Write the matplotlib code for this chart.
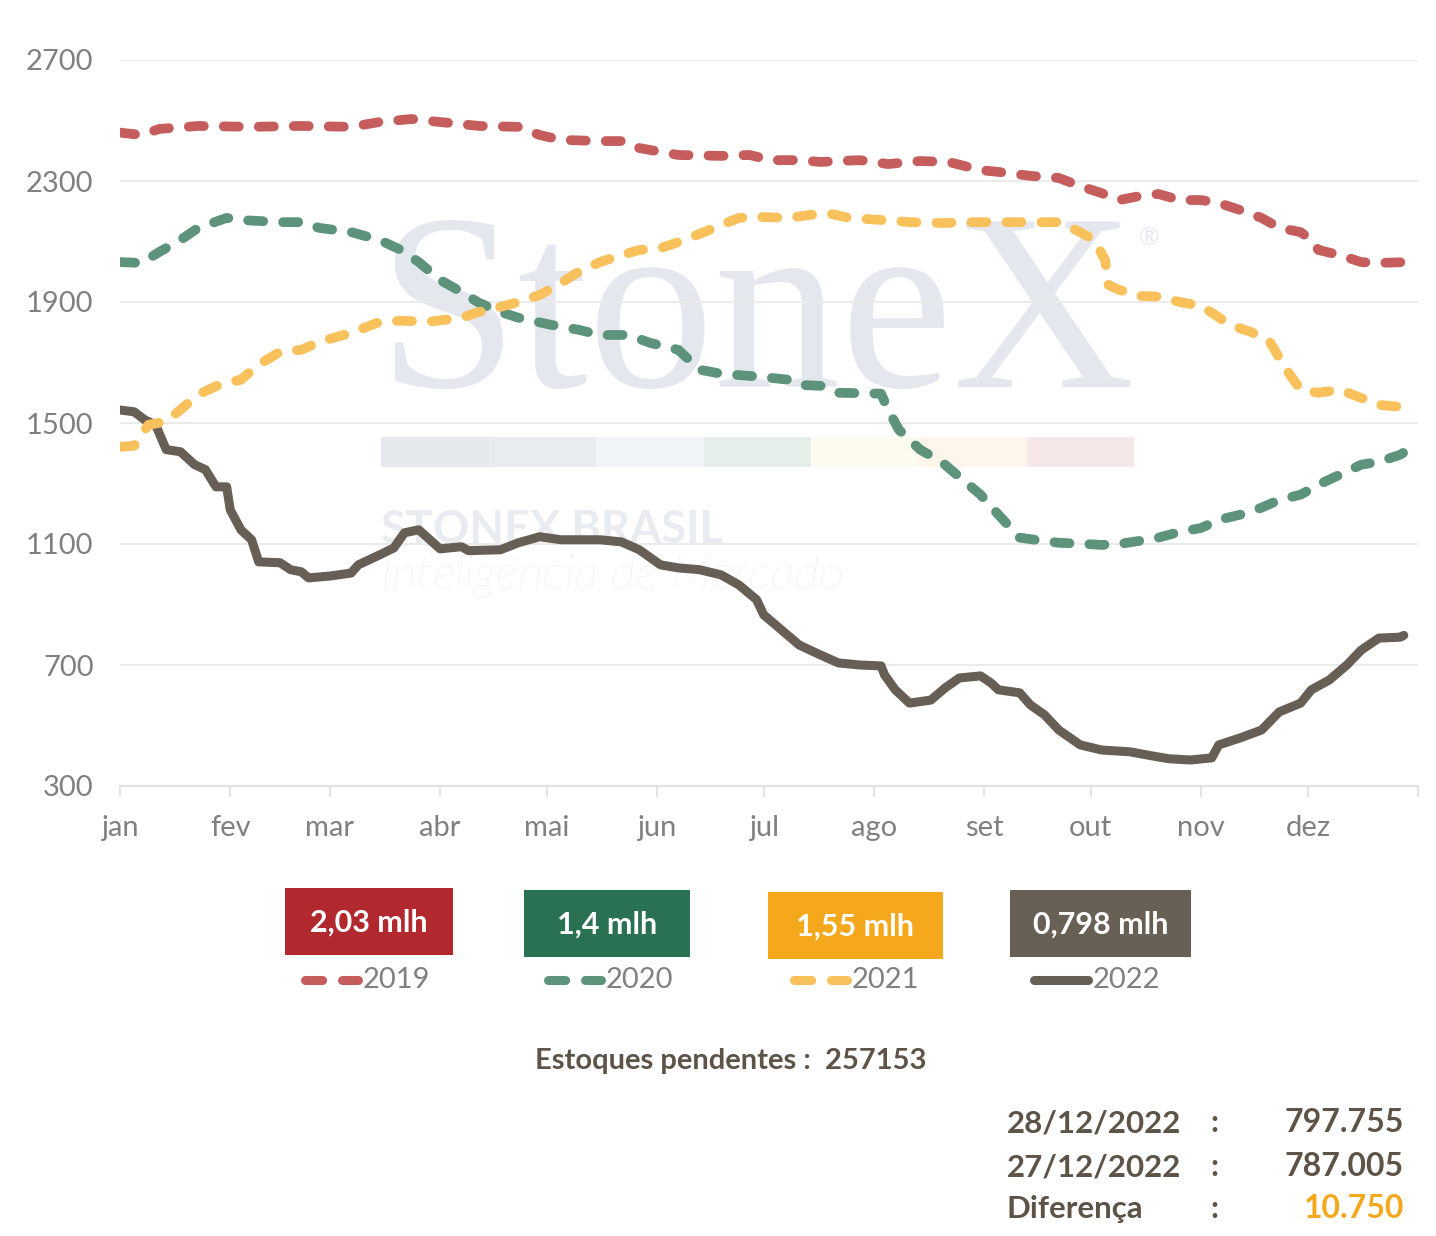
import matplotlib.pyplot as plt
from matplotlib.patches import Rectangle
from matplotlib.lines import Line2D

# day-of-year positions and values (mil t)
days_2019 = [0, 6, 11, 22, 37, 51, 65, 73, 82, 90, 101, 112, 118, 124, 135, 142, 146, 157, 169, 177,
             183, 191, 197, 208, 216, 225, 233, 242, 247, 256, 264, 270, 276, 281, 287, 292, 298, 304, 309, 315,
             321, 326, 332, 335, 337, 343, 349, 354, 362]
vals_2019 = [2460, 2452, 2472, 2482, 2479, 2482, 2479, 2495, 2505, 2495, 2482, 2479, 2452, 2436, 2432, 2432, 2409, 2386, 2383, 2386,
             2369, 2369, 2363, 2369, 2356, 2366, 2363, 2336, 2330, 2317, 2310, 2283, 2260, 2237, 2251, 2257, 2237, 2237, 2227, 2204,
             2178, 2145, 2131, 2105, 2072, 2055, 2032, 2029, 2032]

days_2020 = [0, 6, 11, 17, 22, 30, 34, 45, 51, 56, 65, 73, 79, 84, 90, 96, 101, 107, 112, 121,
             129, 135, 143, 149, 157, 163, 169, 180, 188, 191, 197, 202, 214, 216, 219, 225, 231, 236, 242, 247,
             253, 259, 264, 270, 276, 281, 287, 292, 298, 304, 309, 315, 321, 326, 332, 337, 343, 349, 354, 360, 363]
vals_2020 = [2032, 2029, 2065, 2105, 2145, 2178, 2171, 2164, 2164, 2145, 2131, 2105, 2072, 2032, 1973, 1933, 1897, 1867, 1848, 1825,
             1808, 1791, 1791, 1765, 1742, 1676, 1663, 1653, 1643, 1626, 1623, 1600, 1597, 1544, 1478, 1412, 1372, 1322, 1263, 1197,
             1121, 1111, 1104, 1101, 1097, 1100, 1111, 1121, 1140, 1153, 1180, 1197, 1220, 1246, 1263, 1296, 1329, 1362, 1372, 1395, 1418]

days_2021 = [0, 4, 8, 13, 17, 22, 28, 34, 39, 45, 51, 56, 65, 73, 79, 87, 96, 101, 107, 112,
             118, 124, 129, 135, 141, 146, 152, 157, 163, 169, 174, 180, 188, 194, 200, 205, 214, 222, 231, 239,
             247, 259, 264, 270, 274, 277, 278, 281, 287, 292, 298, 304, 308, 312, 318, 323, 326, 329, 332, 337,
             343, 349, 354, 363]
vals_2021 = [1421, 1425, 1494, 1505, 1544, 1594, 1627, 1643, 1693, 1735, 1742, 1768, 1798, 1834, 1838, 1835, 1848, 1867, 1884, 1900,
             1923, 1963, 2000, 2032, 2055, 2072, 2078, 2098, 2125, 2154, 2178, 2181, 2178, 2188, 2191, 2178, 2171, 2164, 2161, 2164,
             2164, 2164, 2164, 2131, 2105, 2039, 1956, 1940, 1920, 1918, 1900, 1887, 1857, 1825, 1801, 1775, 1715, 1659, 1610, 1600,
             1610, 1583, 1560, 1550]

days_2022 = [0, 4, 7, 10, 13, 17, 21, 24, 27, 30, 31, 34, 37, 39, 45, 48, 51, 53, 59, 65,
             67, 73, 77, 80, 84, 90, 96, 98, 107, 112, 118, 124, 129, 135, 141, 146, 152, 157, 163, 169,
             174, 179, 181, 186, 191, 197, 202, 208, 214, 215, 218, 222, 228, 232, 236, 242, 245, 247, 253, 256,
             260, 264, 270, 276, 284, 290, 295, 301, 307, 309, 315, 321, 326, 332, 335, 340, 345, 349, 354, 360, 361]
vals_2022 = [1543, 1537, 1510, 1494, 1412, 1405, 1362, 1346, 1289, 1289, 1213, 1147, 1114, 1041, 1038, 1015, 1008, 988, 994, 1004,
             1031, 1064, 1087, 1137, 1147, 1084, 1091, 1078, 1081, 1104, 1124, 1114, 1114, 1114, 1107, 1081, 1031, 1021, 1015, 998,
             965, 916, 866, 816, 766, 733, 707, 700, 697, 667, 618, 574, 584, 624, 657, 664, 640, 618, 608, 568,
             535, 485, 436, 419, 413, 400, 390, 386, 393, 436, 459, 485, 545, 574, 618, 650, 700, 749, 789, 792, 798]

month_starts = [0, 31, 59, 90, 120, 151, 181, 212, 243, 273, 304, 334]
month_labels = ['jan', 'fev', 'mar', 'abr', 'mai', 'jun', 'jul', 'ago', 'set', 'out', 'nov', 'dez']
y_ticks = [300, 700, 1100, 1500, 1900, 2300, 2700]

years = ['2019', '2020', '2021', '2022']
box_labels = ['2,03 mlh', '1,4 mlh', '1,55 mlh', '0,798 mlh']
line_colors = ['#C65D5D', '#5C937A', '#F8C15C', '#675F55']
box_colors = ['#B1292E', '#2A7052', '#F5A81C', '#686055']

pendentes = '257153'
rows = [('28/12/2022', '797.755'), ('27/12/2022', '787.005'), ('Diferença', '10.750')]

W, H = 1436, 1236
TXT = '#5E5347'
GRAY = '#808080'
plt.rcParams['font.family'] = ['Lato', 'DejaVu Sans']

fig = plt.figure(figsize=(W / 100, H / 100), dpi=100)
ax = fig.add_axes([120 / W, 1 - 786 / H, 1298 / W, 726 / H])

# watermark behind everything
wm = '#E4E8EE'
ax.text(0.198, 0.549, 'StoneX', transform=ax.transAxes, family='Liberation Serif',
        fontsize=182, color=wm, zorder=0, va='baseline', ha='left')
ax.text(0.785, 0.745, '®', transform=ax.transAxes, fontsize=18, color=wm, zorder=0)
strip = ['#E5E8ED', '#E9EDF1', '#F1F5F9', '#E7EFEA', '#FDFBEF', '#FEF6EA', '#F6E7E8']
for i, c in enumerate(strip):
    ax.add_patch(Rectangle((0.2011 + i * 0.0829, 0.440), 0.0829, 0.0413,
                           transform=ax.transAxes, color=c, lw=0, zorder=0))
ax.text(0.2011, 0.335, 'STONEX BRASIL', transform=ax.transAxes, fontsize=32.5,
        weight='bold', color='#E8EBEF', zorder=0, va='baseline')
ax.text(0.2011, 0.272, 'Inteligência de Mercado', transform=ax.transAxes, fontsize=35,
        weight='light', style='italic', color='#E8EBEF', zorder=0, va='baseline')

dash = (0, (1.55, 2.05))
ax.plot(days_2022, vals_2022, color=line_colors[3], lw=6.5, solid_capstyle='round',
        solid_joinstyle='round', zorder=3)
ax.plot(days_2019, vals_2019, color=line_colors[0], lw=7, ls=dash, dash_capstyle='round', zorder=4)
ax.plot(days_2020, vals_2020, color=line_colors[1], lw=7, ls=dash, dash_capstyle='round', zorder=4)
ax.plot(days_2021, vals_2021, color=line_colors[2], lw=7, ls=dash, dash_capstyle='round', zorder=5)

ax.set_xlim(0, 365)
ax.set_ylim(300, 2700)
ax.set_yticks(y_ticks)
ax.set_yticklabels([str(v) for v in y_ticks])
ax.set_xticks(month_starts)
ax.set_xticklabels(month_labels)
ax.set_xticks([365], minor=True)
ax.grid(axis='y', color='#EBEBEB', lw=1.5, zorder=1)
ax.set_axisbelow(True)
for s in ['top', 'right', 'left']:
    ax.spines[s].set_visible(False)
ax.spines['bottom'].set_color('#E3E3E3')
ax.spines['bottom'].set_linewidth(1.5)
ax.tick_params(axis='y', length=0, pad=19, labelsize=21, labelcolor=GRAY)
ax.tick_params(axis='x', which='both', length=8, width=1.5, color='#E3E3E3',
               pad=13, labelsize=21, labelcolor=GRAY)


def fx(px):
    return px / W


def fy(py):
    return 1 - py / H


# legend boxes and year keys
box_x = [(285, 453, 888), (524, 690, 890), (768, 943, 892), (1010, 1191, 890)]
key_x = [300, 543, 789, 1030]
for i in range(4):
    x0, x1, y0 = box_x[i]
    fig.add_artist(Rectangle((fx(x0), fy(y0 + 67)), fx(x1 - x0), 67 / H,
                             transform=fig.transFigure, color=box_colors[i], lw=0))
    fig.text(fx((x0 + x1) / 2), fy(y0 + 35), box_labels[i], color='white', fontsize=22,
             weight='bold', ha='center', va='center')
    kx = key_x[i]
    if i < 3:
        fig.add_artist(Line2D([fx(kx + 5), fx(kx + 58)], [fy(980), fy(980)], transform=fig.transFigure,
                              color=line_colors[i], lw=6.5, ls=(0, (1.9, 2.2)), dash_capstyle='round'))
    else:
        fig.add_artist(Line2D([fx(kx + 4), fx(kx + 58)], [fy(980), fy(980)], transform=fig.transFigure,
                              color=line_colors[i], lw=6.5, solid_capstyle='round'))
    fig.text(fx(kx + 63), fy(980), years[i], color=GRAY, fontsize=21,
             ha='left', va='center')

fig.text(fx(731), fy(1061), 'Estoques pendentes :  ' + pendentes, color=TXT, fontsize=21,
         weight='bold', ha='center', va='center')

row_y = [1123, 1167, 1209]
for (lab, val), ry in zip(rows, row_y):
    fig.text(fx(1007), fy(ry), lab, color=TXT, fontsize=22.5, weight='bold', ha='left', va='center')
    fig.text(fx(1214), fy(ry), ':', color=TXT, fontsize=22.5, weight='bold', ha='center', va='center')
    col = '#F5A81C' if lab == 'Diferença' else TXT
    fig.text(fx(1404), fy(ry), val, color=col, fontsize=23, weight='bold', ha='right', va='center')

fig.savefig('out.png', dpi=100, facecolor='white')
